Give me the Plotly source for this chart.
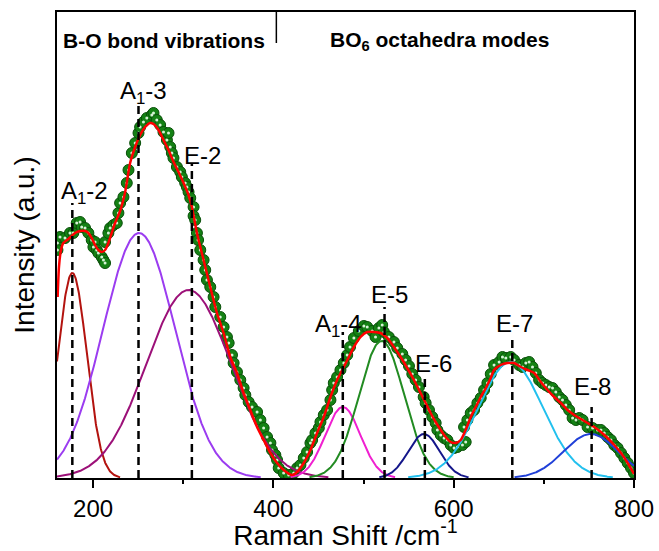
import numpy as np
import plotly.graph_objects as go

# ---- measured spectrum (Raman shift in cm^-1, intensity in arbitrary units) ----
raman_shift = [
    160.5, 160.5, 163.3, 168.9, 174.4, 178.1, 181.9, 185.6, 187.4, 191.1,
    194.8, 198.5, 200.4, 202.2, 204.1, 205.9, 209.6, 211.5, 213.3, 213.3,
    217.0, 218.9, 222.6, 226.3, 228.1, 230.0, 233.7, 237.4, 239.3, 243.0,
    246.7, 250.4, 252.2, 255.9, 259.6, 265.2, 267.0, 270.7, 274.4, 278.1,
    281.9, 283.7, 285.6, 287.4, 289.2, 293.0, 296.7, 298.5, 302.2, 304.1,
    305.9, 307.8, 311.5, 311.5, 313.3, 315.2, 316.5, 318.9, 322.6, 324.4,
    326.3, 330.0, 333.7, 335.6, 341.1, 344.8, 348.5, 350.4, 354.1, 355.9,
    359.6, 363.3, 367.0, 368.9, 372.6, 376.3, 381.9, 385.6, 389.2, 393.0,
    396.7, 398.5, 402.2, 404.1, 405.9, 411.4, 417.0, 422.6, 426.3, 430.0,
    433.7, 437.4, 441.1, 443.0, 446.7, 450.4, 452.2, 455.9, 459.6, 463.3,
    465.2, 467.0, 470.7, 474.4, 478.1, 481.9, 485.0, 489.3, 494.8, 500.4,
    504.1, 509.6, 513.3, 517.0, 520.7, 522.6, 528.1, 533.7, 537.4, 543.0,
    546.7, 550.4, 554.1, 557.8, 561.5, 566.7, 568.9, 572.6, 576.3, 580.0,
    581.9, 585.6, 589.3, 593.0, 596.7, 600.4, 604.1, 609.7, 611.5, 613.3,
    615.2, 618.9, 622.6, 626.3, 630.0, 633.7, 637.4, 641.1, 644.8, 650.4,
    654.1, 657.8, 663.3, 667.0, 672.6, 676.3, 680.0, 683.7, 687.4, 691.1,
    694.8, 698.5, 702.2, 705.9, 709.6, 713.3, 717.0, 720.7, 724.4, 728.1,
    731.9, 735.6, 739.3, 743.0, 748.5, 754.1, 759.6, 763.3, 767.0, 770.7,
    774.4, 778.1, 781.9, 785.6, 789.3, 793.0, 796.7, 800.0,
]
intensity = [
    235, 228, 241, 240, 245, 245, 255, 256, 251, 250,
    245, 238, 231, 236, 228, 225, 221, 218, 215, 236,
    245, 250, 253, 255, 265, 275, 281, 295, 308, 325,
    335, 345, 351, 356, 360, 363, 365, 358, 353, 346,
    338, 345, 331, 325, 320, 311, 306, 301, 295, 291,
    286, 280, 271, 262, 258, 245, 238, 228, 218, 208,
    198, 191, 181, 171, 161, 151, 141, 135, 123, 115,
    106, 98, 90, 83, 76, 71, 66, 58, 50, 41,
    35, 28, 23, 18, 10, 5, 3, 5, 10, 13,
    20, 26, 35, 38, 45, 50, 56, 63, 68, 78,
    88, 95, 101, 108, 115, 123, 131, 140, 147, 152,
    151, 147, 141, 150, 153, 146, 141, 136, 130, 124,
    118, 112, 104, 98, 91, 81, 75, 68, 61, 55,
    48, 43, 40, 38, 33, 30, 31, 33, 51, 36,
    58, 65, 68, 75, 80, 88, 95, 104, 113, 116,
    121, 120, 121, 118, 113, 111, 115, 116, 111, 105,
    98, 95, 93, 91, 90, 86, 81, 78, 73, 68,
    60, 58, 60, 58, 51, 50, 48, 48, 45, 41,
    38, 33, 30, 25, 20, 15, 10, 5,
]

# ---- smoothed fit envelope ----
fit_shift = [
    160.7, 162.2, 164.4, 167.0, 172.6, 180.0, 185.6, 191.1, 194.8, 198.5,
    202.2, 205.9, 209.6, 213.3, 217.0, 220.7, 224.4, 230.0, 235.6, 241.1,
    246.7, 252.2, 257.8, 263.3, 267.0, 272.6, 278.1, 283.7, 289.3, 294.8,
    300.4, 305.9, 309.6, 315.2, 322.6, 330.0, 337.4, 344.8, 352.2, 359.6,
    367.0, 374.4, 381.9, 389.2, 396.7, 404.1, 411.4, 420.7, 426.3, 433.7,
    441.1, 448.5, 455.9, 463.3, 470.7, 478.1, 483.7, 489.3, 496.7, 504.1,
    511.5, 518.9, 526.3, 533.7, 541.1, 548.5, 555.9, 563.3, 568.9, 574.4,
    580.0, 585.6, 591.1, 596.7, 602.2, 607.8, 613.3, 618.9, 624.4, 630.0,
    635.6, 641.1, 644.8, 652.2, 659.6, 667.0, 674.4, 681.9, 689.3, 696.7,
    704.1, 711.5, 718.9, 726.3, 733.7, 741.1, 748.5, 755.9, 763.3, 770.7,
    778.1, 785.6, 793.0, 800.0,
]
fit_intensity = [
    181, 211, 228, 235, 239, 245, 247, 247, 245, 240,
    233, 228, 226, 228, 235, 245, 255, 267, 286, 315,
    331, 343, 351, 355, 354, 348, 338, 328, 316, 306,
    295, 283, 271, 245, 218, 191, 165, 145, 121, 105,
    85, 68, 51, 38, 25, 15, 8, 3, 6, 15,
    28, 45, 61, 81, 98, 111, 121, 131, 141, 146,
    146, 145, 140, 131, 121, 110, 98, 85, 75, 65,
    56, 48, 41, 36, 35, 38, 48, 61, 71, 81,
    90, 100, 108, 113, 115, 115, 111, 108, 105, 96,
    88, 81, 75, 68, 63, 59, 55, 51, 46, 40,
    33, 25, 15, 4,
]

# ---- Gaussian components of the fit ----
mode_names = ["A1-2", "A1-3", "E-2", "A1-4", "E-5", "E-6", "E-7", "E-8"]
mode_labels = ["A<sub>1</sub>-2", "A<sub>1</sub>-3", "E-2", "A<sub>1</sub>-4",
               "E-5", "E-6", "E-7", "E-8"]
peak_center = [177, 251, 306, 477, 520, 567, 663, 752]
peak_height = [205, 245, 188, 71, 137, 44, 116, 44]
peak_sigma = [16, 40, 47, 19.5, 25, 17.5, 36, 30]
peak_color = ["#b3130f", "#9b3cf0", "#9c1078", "#f020d0",
              "#228b22", "#14168a", "#22c0ee", "#2040d8"]

# marked band positions and where their labels sit
band_position = [177, 250.4, 309.6, 477, 523.3, 568, 665, 753]
band_line_top = [275, 375, 315, 146, 171, 103, 138, 71]
label_x = [190, 255.6, 321.7, 472, 528.9, 577.8, 667.2, 754.4]
label_y = [285.5, 385.5, 323, 153, 184, 114.5, 154.5, 91.5]

FONT = "Liberation Sans, Arial, sans-serif"

fig = go.Figure()

# measured points: dark green spheres with a bright highlight
fig.add_trace(go.Scatter(
    x=raman_shift, y=intensity, mode="markers", name="data",
    marker=dict(size=11, color="#148214", line=dict(color="#0a500a", width=1)),
))
fig.add_trace(go.Scatter(
    x=raman_shift, y=intensity, mode="markers", name="highlight",
    marker=dict(size=3, color="rgba(235,255,235,0.9)"),
))

# fitted components
grid = np.linspace(160, 800, 1281)
for name, c, h, s, col in zip(mode_names, peak_center, peak_height, peak_sigma, peak_color):
    curve = h * np.exp(-((grid - c) ** 2) / (2 * s * s))
    curve = np.where(curve > 0.8, curve, np.nan)
    fig.add_trace(go.Scatter(x=grid, y=curve, mode="lines", name=name,
                             line=dict(color=col, width=2)))

# fit envelope
fig.add_trace(go.Scatter(x=fit_shift, y=fit_intensity, mode="lines", name="fit",
                         line=dict(color="#ff0000", width=2.5, shape="spline", smoothing=0.6)))

shapes = []
for xb, top in zip(band_position, band_line_top):
    shapes.append(dict(type="line", xref="x", yref="y", x0=xb, x1=xb, y0=0, y1=top,
                       line=dict(color="black", width=2.5, dash="8px,5px")))
# divider between the two spectral regions
shapes.append(dict(type="line", xref="x", yref="y", x0=403.3, x1=403.3, y0=435, y1=466,
                   line=dict(color="black", width=1.5)))

annotations = []
for txt, lx, ly in zip(mode_labels, label_x, label_y):
    annotations.append(dict(x=lx, y=ly, xref="x", yref="y", text=txt, showarrow=False,
                            xanchor="center", yanchor="middle",
                            font=dict(family=FONT, size=24, color="black")))
annotations.append(dict(x=164.4, y=437.5, xref="x", yref="y", text="<b>B-O bond vibrations</b>",
                        showarrow=False, xanchor="left", yanchor="middle",
                        font=dict(family=FONT, size=21, color="black")))
annotations.append(dict(x=461, y=437.5, xref="x", yref="y",
                        text="<b>BO<sub>6</sub> octahedra modes</b>",
                        showarrow=False, xanchor="left", yanchor="middle",
                        font=dict(family=FONT, size=21, color="black")))

fig.update_layout(
    width=659, height=551,
    margin=dict(l=57, r=25, t=12, b=73),
    paper_bgcolor="white", plot_bgcolor="white",
    showlegend=False,
    shapes=shapes, annotations=annotations,
    font=dict(family=FONT, color="black"),
)
fig.update_xaxes(
    range=[160, 800], tickvals=[200, 400, 600, 800], automargin=False,
    ticks="outside", ticklen=8, tickwidth=1.5, tickcolor="black",
    minor=dict(tickvals=[300, 500, 700], ticks="outside", ticklen=4, tickwidth=1.5,
               tickcolor="black"),
    showline=True, linecolor="black", linewidth=1.8, mirror=True,
    showgrid=False, zeroline=False,
    tickfont=dict(family=FONT, size=24, color="black"),
    title=dict(text="Raman Shift /cm<sup>-1</sup>", standoff=10,
               font=dict(family=FONT, size=28, color="black")),
)
fig.update_yaxes(
    range=[0, 466], showticklabels=False, ticks="", automargin=False,
    showline=True, linecolor="black", linewidth=1.8, mirror=True,
    showgrid=False, zeroline=False,
    title=dict(text="Intensity (a.u.)", standoff=12,
               font=dict(family=FONT, size=28, color="black")),
)

fig.write_html("out.html")
